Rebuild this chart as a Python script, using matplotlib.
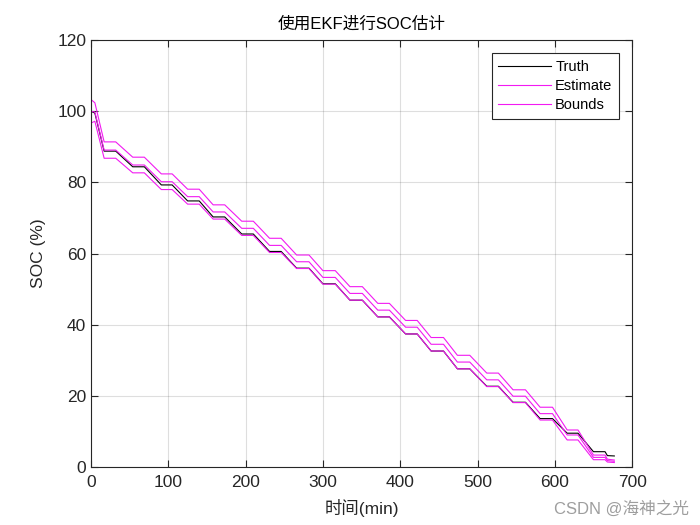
import matplotlib
matplotlib.use("Agg")
import matplotlib.pyplot as plt
import numpy as np

plt.rcParams['font.family'] = ['Liberation Sans', 'Noto Sans CJK SC', 'DejaVu Sans']

# corner points of the staircase (time in minutes)
t_min = [0, 5, 17, 32, 54, 69, 91, 105, 125, 140, 158, 173, 195, 210, 231, 246,
         266, 282, 300, 316, 335, 351, 371, 386, 407, 422, 440, 456, 474, 490,
         512, 527, 546, 562, 581, 597, 616, 630, 650, 665, 668, 677]

soc_truth = [100, 99.5, 88.8, 88.8, 84.4, 84.4, 79.3, 79.3, 74.8, 74.8, 70.3, 70.3,
             65.5, 65.5, 60.6, 60.6, 55.9, 55.9, 51.5, 51.5, 46.9, 46.9, 42.2, 42.2,
             37.4, 37.4, 32.6, 32.6, 27.6, 27.6, 22.7, 22.7, 18.2, 18.2, 13.6, 13.6,
             9.5, 9.5, 4.3, 4.3, 3.2, 3.1]

soc_est = [100, 99.8, 89.1, 89.1, 84.9, 84.9, 80.2, 80.2, 76.0, 76.0, 71.7, 71.7,
           67.1, 67.1, 62.3, 62.3, 57.7, 57.7, 53.3, 53.3, 48.8, 48.8, 44.1, 44.1,
           39.3, 39.3, 34.5, 34.5, 29.5, 29.5, 24.5, 24.5, 19.9, 19.9, 15.0, 15.0,
           9.0, 9.0, 2.7, 2.7, 1.8, 1.6]

bound_width = [3.3, 2.6, 2.3, 2.3, 2.2, 2.2, 2.2, 2.2, 2.1, 2.1, 2.0, 2.0,
               2.0, 2.0, 2.0, 2.0, 1.9, 1.9, 1.9, 1.9, 1.9, 1.9, 1.9, 1.9,
               1.9, 1.9, 1.9, 1.9, 1.9, 1.9, 1.9, 1.9, 1.8, 1.8, 1.8, 1.8,
               1.4, 1.4, 0.65, 0.65, 0.4, 0.35]

est = np.array(soc_est)
width = np.array(bound_width)

dark = (0.15, 0.15, 0.15)
mag = (0.95, 0.1, 0.95)

fig = plt.figure(figsize=(7, 5.25), dpi=100)
ax = fig.add_axes([0.13, 0.1105, 0.773, 0.813])

ax.plot(t_min, soc_truth, color='k', lw=0.8, label='Truth')
ax.plot(t_min, est, color=mag, lw=0.8, label='Estimate')
ax.plot(t_min, est + width, color=mag, lw=0.8, label='Bounds')
ax.plot(t_min, est - width, color=mag, lw=0.8)

ax.set_xlim(0, 700)
ax.set_ylim(0, 120)
ax.set_xticks(range(0, 701, 100))
ax.set_yticks(range(0, 121, 20))
ax.grid(True, color=dark, alpha=0.15, lw=0.8)
ax.tick_params(direction='in', top=True, right=True, labelsize=12.5,
               colors=dark, length=5)
ax.tick_params(axis='x', pad=6)
for s in ax.spines.values():
    s.set_color(dark)
    s.set_linewidth(0.8)

ax.set_title('使用EKF进行SOC估计', fontsize=12, color='k', pad=8)
ax.set_xlabel('时间(min)', fontsize=12.5, color=dark, labelpad=6)
ax.set_ylabel('SOC (%)', fontsize=12.5, color=dark, labelpad=8)

leg = ax.legend(loc='upper right', fontsize=10.5, fancybox=False, framealpha=1,
                edgecolor=dark, handlelength=3.6, borderaxespad=0.9,
                labelspacing=0.35, handletextpad=0.3, borderpad=0.45)
leg.get_frame().set_linewidth(0.8)

fig.text(0.985, 0.032, 'CSDN @海神之光', ha='right', va='center', fontsize=12,
         color=(0.62, 0.62, 0.62))

fig.savefig('out.png', dpi=100, facecolor='white')
